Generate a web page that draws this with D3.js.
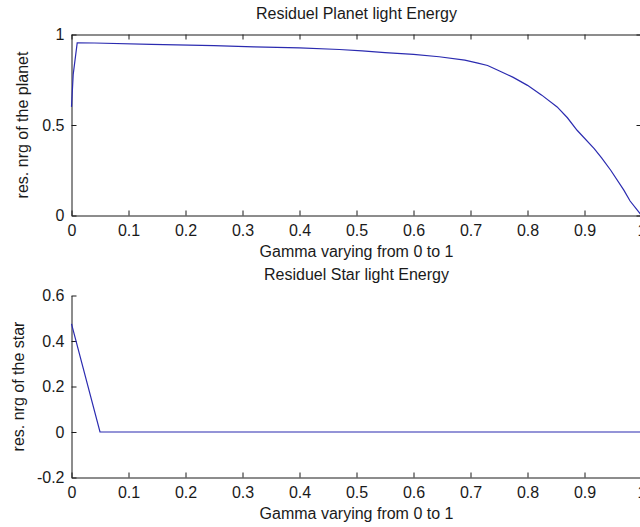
<!DOCTYPE html>
<html>
<head>
<meta charset="utf-8">
<script src="https://cdn.jsdelivr.net/npm/d3@7"></script>
<style>
  body { margin: 0; background: #fff; }
  svg text { font-family: "Liberation Sans", Arial, sans-serif; fill: #1a1a1a; }
</style>
</head>
<body>
<div id="chart"></div>
<script>
// Values
const gamma = [0, 0.003, 0.01, 0.04, 0.14, 0.25, 0.32, 0.4, 0.47, 0.51, 0.55, 0.6, 0.645, 0.69, 0.713, 0.73, 0.75, 0.775, 0.8, 0.825, 0.852, 0.87, 0.887, 0.917, 0.93, 0.946, 0.969, 0.98, 1];
const planetEnergy = [0.6, 0.78, 0.954, 0.953, 0.945, 0.938, 0.932, 0.926, 0.917, 0.91, 0.9, 0.89, 0.877, 0.858, 0.842, 0.829, 0.8, 0.763, 0.719, 0.665, 0.6, 0.54, 0.471, 0.37, 0.318, 0.25, 0.14, 0.08, 0];
const starGamma = [0, 0.05, 1];
const starEnergy = [0.475, 0, 0];

const xTicks = [0, 0.1, 0.2, 0.3, 0.4, 0.5, 0.6, 0.7, 0.8, 0.9, 1];
const planetTicks = [0, 0.5, 1];
const starTicks = [-0.2, 0, 0.2, 0.4, 0.6];

const width = 640, height = 527;
const fontSize = 16;
const lineColor = "#2b2bb0";
const axisColor = "#1a1a1a";

const svg = d3.select("#chart")
    .append("svg")
    .attr("width", width)
    .attr("height", height)
    .style("background", "#fff");

// Helper to draw one subplot
function subplot(opts) {
    const x = d3.scaleLinear().domain([0, 1]).range([71.5, 641.5]);
    const y = d3.scaleLinear().domain(opts.yDomain).range([opts.bottom, opts.top]);
    const g = svg.append("g");

    const fmt = d => String(d);

    // bottom axis, ticks pointing inward
    g.append("g")
        .attr("transform", `translate(0,${opts.bottom})`)
        .call(d3.axisBottom(x).tickValues(xTicks).tickFormat(fmt).tickSize(-5).tickSizeOuter(0).tickPadding(9));

    // left axis
    g.append("g")
        .attr("transform", `translate(71.5,0)`)
        .call(d3.axisLeft(y).tickValues(opts.yTicks).tickFormat(fmt).tickSize(-5).tickSizeOuter(0).tickPadding(7));

    if (opts.box) {
        g.append("g")
            .attr("transform", `translate(0,${opts.top})`)
            .call(d3.axisTop(x).tickValues(xTicks).tickFormat("").tickSize(-5).tickSizeOuter(0));
        g.append("g")
            .attr("transform", `translate(641.5,0)`)
            .call(d3.axisRight(y).tickValues(opts.yTicks).tickFormat("").tickSize(-5).tickSizeOuter(0));
    }

    g.selectAll(".domain, .tick line").attr("stroke", axisColor).attr("stroke-width", 1);
    g.selectAll(".tick text").attr("font-size", fontSize).attr("fill", axisColor)
        .style("font-family", "'Liberation Sans', Arial, sans-serif");

    // data line
    const line = d3.line().x(d => x(d[0])).y(d => y(d[1]));
    g.append("path")
        .datum(opts.xs.map((v, i) => [v, opts.ys[i]]))
        .attr("fill", "none")
        .attr("stroke", lineColor)
        .attr("stroke-width", 1.2)
        .attr("d", line);

    const cx = (71.5 + 641.5) / 2;
    // title
    g.append("text")
        .attr("x", cx).attr("y", opts.titleY)
        .attr("text-anchor", "middle")
        .attr("font-size", fontSize)
        .text(opts.title);
    // x label
    g.append("text")
        .attr("x", cx).attr("y", opts.bottom + 41)
        .attr("text-anchor", "middle")
        .attr("font-size", fontSize)
        .text("Gamma varying from 0 to 1");
    // y label
    g.append("text")
        .attr("transform", `translate(${opts.yLabelX},${(opts.top + opts.bottom) / 2}) rotate(-90)`)
        .attr("text-anchor", "middle")
        .attr("font-size", fontSize)
        .text(opts.yLabel);
}

subplot({
    top: 34.5, bottom: 215.5, yDomain: [0, 1], yTicks: planetTicks, box: true,
    xs: gamma, ys: planetEnergy,
    title: "Residuel Planet light Energy", titleY: 19,
    yLabel: "res. nrg of the planet", yLabelX: 28
});

subplot({
    top: 295.5, bottom: 477.5, yDomain: [-0.2, 0.6], yTicks: starTicks, box: false,
    xs: starGamma, ys: starEnergy,
    title: "Residuel Star light Energy", titleY: 280,
    yLabel: "res. nrg of the star", yLabelX: 24
});
</script>
</body>
</html>
